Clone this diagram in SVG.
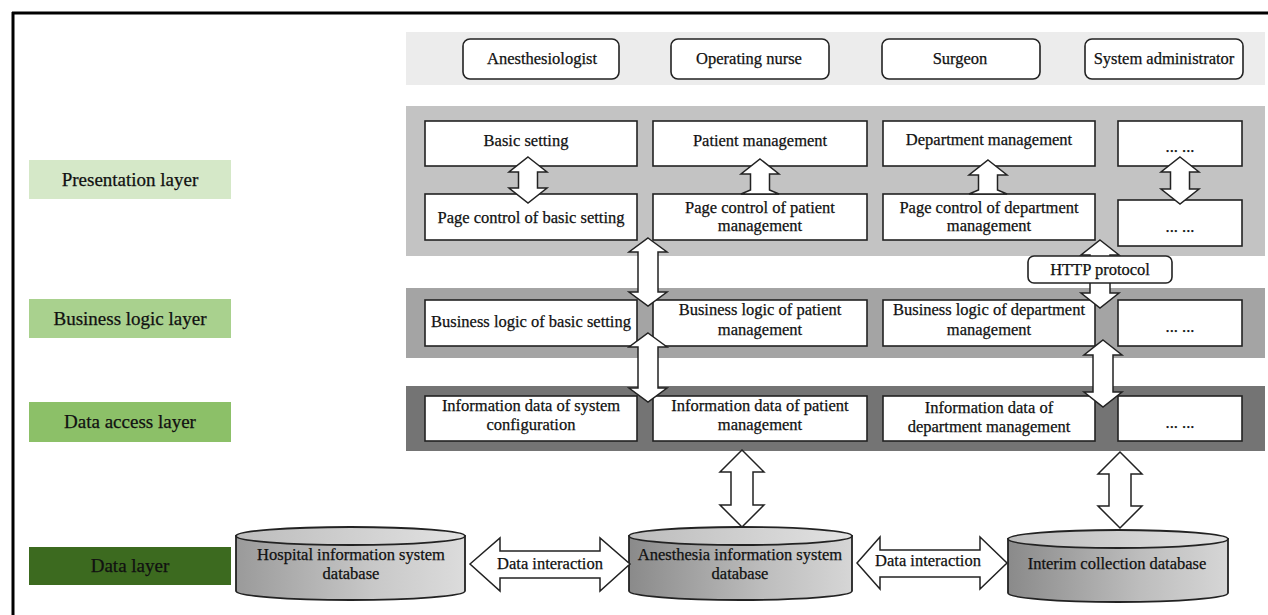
<svg xmlns="http://www.w3.org/2000/svg" width="1268" height="615" viewBox="0 0 1268 615">
<defs>
<linearGradient id="cylBody" x1="0" y1="0" x2="1" y2="0">
<stop offset="0" stop-color="#9a9a9a"/><stop offset="0.6" stop-color="#c8c8c8"/><stop offset="1" stop-color="#dcdcdc"/>
</linearGradient>
<linearGradient id="cylBody2" x1="0" y1="0" x2="1" y2="0">
<stop offset="0" stop-color="#8a8a8a"/><stop offset="0.6" stop-color="#bdbdbd"/><stop offset="1" stop-color="#d6d6d6"/>
</linearGradient>
<linearGradient id="cylTop" x1="0" y1="0" x2="1" y2="0">
<stop offset="0" stop-color="#bcbcbc"/><stop offset="1" stop-color="#e2e2e2"/>
</linearGradient>
</defs>
<style>
text{font-family:"Liberation Serif","Times New Roman",serif;fill:#111;text-anchor:middle;stroke:#111;stroke-width:0.25;}
.t{font-size:16.5px;}
.lbl{font-size:19px;}
.box{fill:#fff;stroke:#222;stroke-width:1.6;}
.actor{fill:#fff;stroke:#222;stroke-width:1.6;}
.arr{fill:#fff;stroke:#222;stroke-width:1.5;stroke-linejoin:miter;}
.cyl{stroke:#222;stroke-width:1.8;}
</style>
<rect width="1268" height="615" fill="#fff"/>
<line x1="12" y1="13" x2="1268" y2="13" stroke="#000" stroke-width="3"/>
<line x1="13" y1="12" x2="13" y2="615" stroke="#000" stroke-width="3"/>

<g id="layer-labels">
<g id="lbl-presentation"><rect x="29" y="160" width="202" height="39" fill="#d5e8c8"/><text class="lbl" x="130" y="186">Presentation layer</text></g>
<g id="lbl-business"><rect x="29" y="299" width="202" height="39" fill="#a9d18e"/><text class="lbl" x="130" y="325">Business logic layer</text></g>
<g id="lbl-dataaccess"><rect x="29" y="402" width="202" height="40" fill="#8cc068"/><text class="lbl" x="130" y="428">Data access layer</text></g>
<g id="lbl-data"><rect x="29" y="547" width="202" height="38" fill="#3c6a1f"/><text class="lbl" x="130" y="572">Data layer</text></g>
</g>

<g id="bands">
<rect id="band-actors" x="406" y="32" width="859" height="53" fill="#ececec"/>
<rect id="band-presentation" x="406" y="106" width="859" height="150" fill="#c3c3c3"/>
<rect id="band-business" x="406" y="288" width="859" height="70" fill="#a4a4a4"/>
<rect id="band-dataaccess" x="406" y="386" width="859" height="65" fill="#747474"/>
</g>

<g id="actors">
<g id="actor-anesthesiologist"><rect class="actor" x="463" y="39" width="156" height="40" rx="7"/><text class="t" x="542" y="64">Anesthesiologist</text></g>
<g id="actor-nurse"><rect class="actor" x="671" y="39" width="158" height="40" rx="7"/><text class="t" x="749" y="64">Operating nurse</text></g>
<g id="actor-surgeon"><rect class="actor" x="882" y="39" width="158" height="40" rx="7"/><text class="t" x="960" y="64">Surgeon</text></g>
<g id="actor-admin"><rect class="actor" x="1085" y="39" width="158" height="40" rx="7"/><text class="t" x="1164" y="64">System administrator</text></g>
</g>

<g id="presentation-nodes">
<g id="basic-setting"><rect class="box" x="425" y="121" width="212" height="45"/><text class="t" x="526" y="146">Basic setting</text></g>
<g id="patient-management"><rect class="box" x="653" y="121" width="214" height="45"/><text class="t" x="760" y="146">Patient management</text></g>
<g id="department-management"><rect class="box" x="883" y="121" width="212" height="45"/><text class="t" x="989" y="145">Department management</text></g>
<g id="pres-more-1"><rect class="box" x="1118" y="121" width="124" height="45"/><text class="t" x="1180" y="152">... ...</text></g>
<g id="page-basic"><rect class="box" x="425" y="194" width="212" height="46"/><text class="t" x="531" y="223">Page control of basic setting</text></g>
<g id="page-patient"><rect class="box" x="653" y="194" width="214" height="46"/><text class="t" x="760" y="213">Page control of patient</text><text class="t" x="760" y="231">management</text></g>
<g id="page-department"><rect class="box" x="883" y="194" width="212" height="46"/><text class="t" x="989" y="213">Page control of department</text><text class="t" x="989" y="231">management</text></g>
<g id="pres-more-2"><rect class="box" x="1118" y="200" width="124" height="46"/><text class="t" x="1180" y="232">... ...</text></g>
</g>

<g id="business-nodes">
<g id="bl-basic"><rect class="box" x="425" y="300" width="212" height="46"/><text class="t" x="531" y="327">Business logic of basic setting</text></g>
<g id="bl-patient"><rect class="box" x="653" y="300" width="214" height="46"/><text class="t" x="760" y="315">Business logic of patient</text><text class="t" x="760" y="335">management</text></g>
<g id="bl-department"><rect class="box" x="883" y="300" width="212" height="46"/><text class="t" x="989" y="315">Business logic of department</text><text class="t" x="989" y="335">management</text></g>
<g id="bl-more"><rect class="box" x="1118" y="300" width="124" height="46"/><text class="t" x="1180" y="332">... ...</text></g>
</g>

<g id="dataaccess-nodes">
<g id="da-system"><rect class="box" x="425" y="396" width="212" height="45"/><text class="t" x="531" y="411">Information data of system</text><text class="t" x="531" y="430">configuration</text></g>
<g id="da-patient"><rect class="box" x="653" y="396" width="214" height="45"/><text class="t" x="760" y="411">Information data of patient</text><text class="t" x="760" y="430">management</text></g>
<g id="da-department"><rect class="box" x="883" y="396" width="212" height="45"/><text class="t" x="989" y="413">Information data of</text><text class="t" x="989" y="432">department management</text></g>
<g id="da-more"><rect class="box" x="1118" y="396" width="124" height="45"/><text class="t" x="1180" y="428">... ...</text></g>
</g>

<g id="databases">
<g id="db-hospital">
<path class="cyl" fill="url(#cylBody)" d="M236,536 L236,591 A114.5,9 0 0 0 465,591 L465,536 Z"/>
<ellipse class="cyl" fill="url(#cylTop)" cx="350.5" cy="536" rx="114.5" ry="9"/>
<text class="t" x="351" y="560">Hospital information system</text><text class="t" x="351" y="579">database</text>
</g>
<g id="db-anesthesia">
<path class="cyl" fill="url(#cylBody2)" d="M629,536 L629,591 A111.5,9 0 0 0 852,591 L852,536 Z"/>
<ellipse class="cyl" fill="url(#cylTop)" cx="740.5" cy="536" rx="111.5" ry="9"/>
<text class="t" x="740" y="560">Anesthesia information system</text><text class="t" x="740" y="579">database</text>
</g>
<g id="db-interim">
<path class="cyl" fill="url(#cylBody2)" d="M1008,539 L1008,593 A110,9 0 0 0 1228,593 L1228,539 Z"/>
<ellipse class="cyl" fill="url(#cylTop)" cx="1118" cy="539" rx="110" ry="9"/>
<text class="t" x="1117" y="569">Interim collection database</text>
</g>
</g>

<g id="connectors">
<path class="arr" d="M528,157 L547,172 L537.5,172 L537.5,188 L547,188 L528,203 L509,188 L518.5,188 L518.5,172 L509,172 Z"/>
<path class="arr" d="M760,159 L779,174 L769.5,174 L769.5,190 L779,194 L741,194 L750.5,190 L750.5,174 L741,174 Z"/>
<path class="arr" d="M988,160 L1007,175 L997.5,175 L997.5,190 L1007,194 L969,194 L978.5,190 L978.5,175 L969,175 Z"/>
<path class="arr" d="M1180,157 L1199,172 L1189.5,172 L1189.5,189 L1199,189 L1180,204 L1161,189 L1170.5,189 L1170.5,172 L1161,172 Z"/>
<path class="arr" d="M648,238 L667,252 L658,252 L658,292 L667,292 L648,306 L629,292 L638,292 L638,252 L629,252 Z"/>
<path class="arr" d="M648,333 L667,347 L658,347 L658,388 L667,388 L648,402 L629,388 L638,388 L638,347 L629,347 Z"/>
<path class="arr" d="M1100,240 L1119,255 L1110,255 L1110,293 L1119,293 L1100,308 L1081,293 L1090,293 L1090,255 L1081,255 Z"/>
<g id="http-label"><rect class="actor" x="1028" y="256" width="144" height="27" rx="6"/><text class="t" x="1100" y="275">HTTP protocol</text></g>
<path class="arr" d="M1103,340 L1122,355 L1113,355 L1113,392 L1122,392 L1103,407 L1084,392 L1093,392 L1093,355 L1084,355 Z"/>
<path class="arr" d="M742,450 L764,472 L753,472 L753,505 L764,505 L742,527 L720,505 L731,505 L731,472 L720,472 Z"/>
<path class="arr" d="M1120,452 L1142,474 L1131,474 L1131,506 L1142,506 L1120,528 L1098,506 L1109,506 L1109,474 L1098,474 Z"/>
<path class="arr" d="M470,564 L500,538 L500,551 L600,551 L600,538 L630,564 L600,591 L600,578 L500,578 L500,591 Z"/>
<text class="t" x="550" y="569">Data interaction</text>
<path class="arr" d="M857,563 L880,537 L880,550 L980,550 L980,537 L1007,563 L980,589 L980,577 L880,577 L880,589 Z"/>
<text class="t" x="928" y="566">Data interaction</text>
</g>
</svg>
